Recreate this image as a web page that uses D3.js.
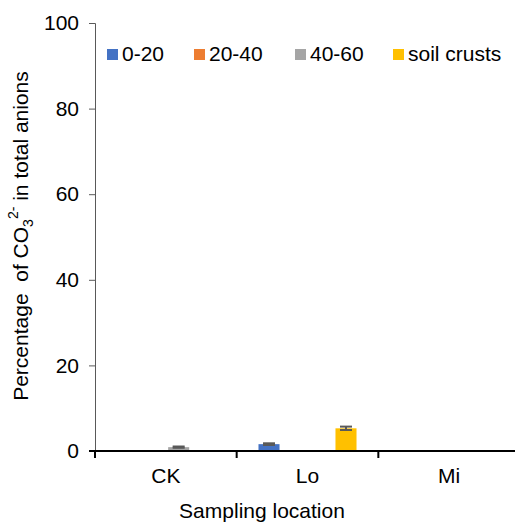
<!DOCTYPE html>
<html>
<head>
<meta charset="utf-8">
<script src="https://cdn.jsdelivr.net/npm/d3@7"></script>
<style>
	body { margin: 0; background: #fff; }
	text { font-family: "Liberation Sans", Arial, sans-serif; fill: #000; }
</style>
</head>
<body>
<div id="wrapper"></div>
<script>
const categories = ["CK", "Lo", "Mi"];
const series = ["0-20", "20-40", "40-60", "soil crusts"];
const colors = ["#4472C4", "#ED7D31", "#A5A5A5", "#FFC000"];
// values per category, in series order
const values = [
	[0, 0, 0.9, 0],
	[1.6, 0, 0, 5.3],
	[0, 0, 0, 0],
];
const errors = [
	[0, 0, 0.15, 0],
	[0.2, 0, 0, 0.4],
	[0, 0, 0, 0],
];
const yTicks = [0, 20, 40, 60, 80, 100];

const drawChart = () => {
	const dimensions = {
		width: 515,
		height: 522,
		margins: { top: 23, right: -5, bottom: 71, left: 95 },
	};
	dimensions.boundedWidth =
		dimensions.width - dimensions.margins.left - dimensions.margins.right;
	dimensions.boundedHeight =
		dimensions.height - dimensions.margins.top - dimensions.margins.bottom;

	const svg = d3
		.select("#wrapper")
		.append("svg")
		.attr("width", dimensions.width)
		.attr("height", dimensions.height);

	const bounds = svg
		.append("g")
		.attr("transform", `translate(${dimensions.margins.left}, ${dimensions.margins.top})`);

	// scales
	const x0 = d3
		.scaleBand()
		.domain(categories)
		.range([0, dimensions.boundedWidth])
		.paddingInner(0.308)
		.paddingOuter(0.154);

	const x1 = d3
		.scaleBand()
		.domain(series)
		.range([0, x0.bandwidth()])
		.paddingInner(0.18);

	const yScale = d3
		.scaleLinear()
		.domain([0, 100])
		.range([dimensions.boundedHeight, 0]);

	// bars
	const rows = categories.map((c, i) => ({
		category: c,
		items: series.map((s, j) => ({ s, j, value: values[i][j], err: errors[i][j] })),
	}));

	const groups = bounds
		.selectAll(".group")
		.data(rows)
		.join("g")
		.attr("class", "group")
		.attr("transform", (d) => `translate(${x0(d.category)}, 0)`);

	groups
		.selectAll("rect")
		.data((d) => d.items.filter((e) => e.value > 0))
		.join("rect")
		.attr("x", (d) => x1(d.s))
		.attr("width", x1.bandwidth())
		.attr("y", (d) => yScale(d.value))
		.attr("height", (d) => yScale(0) - yScale(d.value))
		.attr("fill", (d) => colors[d.j]);

	// error bars
	const errG = groups
		.selectAll(".err")
		.data((d) => d.items.filter((e) => e.value > 0))
		.join("g")
		.attr("class", "err")
		.attr("stroke", "#595959")
		.attr("stroke-width", 2);
	const capW = 6;
	errG
		.append("line")
		.attr("x1", (d) => x1(d.s) + x1.bandwidth() / 2)
		.attr("x2", (d) => x1(d.s) + x1.bandwidth() / 2)
		.attr("y1", (d) => yScale(d.value + d.err))
		.attr("y2", (d) => yScale(d.value - d.err));
	errG
		.selectAll(".cap")
		.data((d) => [d.value + d.err, d.value - d.err].map((v) => ({ v, d })))
		.join("line")
		.attr("class", "cap")
		.attr("x1", (e) => x1(e.d.s) + x1.bandwidth() / 2 - capW)
		.attr("x2", (e) => x1(e.d.s) + x1.bandwidth() / 2 + capW)
		.attr("y1", (e) => yScale(e.v))
		.attr("y2", (e) => yScale(e.v));

	// y axis
	const yAxis = bounds
		.append("g")
		.call(d3.axisLeft(yScale).tickValues(yTicks).tickSize(6).tickPadding(10));
	yAxis.select(".domain").attr("stroke", "#595959").attr("d", `M-6,0.5H0.5V${dimensions.boundedHeight}`);
	yAxis.selectAll(".tick line").attr("stroke", "#595959");
	yAxis.selectAll(".tick text").style("font-size", "21px");

	// x axis
	const step = x0.step();
	const xAxis = bounds
		.append("g")
		.attr("transform", `translate(0, ${dimensions.boundedHeight})`);
	xAxis
		.append("line")
		.attr("x1", -6)
		.attr("x2", dimensions.boundedWidth)
		.attr("stroke", "#000")
		.attr("stroke-width", 2);
	xAxis
		.selectAll(".xtick")
		.data(d3.range(categories.length + 1))
		.join("line")
		.attr("class", "xtick")
		.attr("x1", (i) => i * step)
		.attr("x2", (i) => i * step)
		.attr("y1", 0)
		.attr("y2", 7)
		.attr("stroke", "#000")
		.attr("stroke-width", 2);
	xAxis
		.selectAll(".xlabel")
		.data(categories)
		.join("text")
		.attr("class", "xlabel")
		.attr("x", (d) => x0(d) + x0.bandwidth() / 2)
		.attr("y", 32)
		.attr("text-anchor", "middle")
		.style("font-size", "21px")
		.text((d) => d);

	// axis titles
	svg
		.append("text")
		.attr("x", 262)
		.attr("y", 518)
		.attr("text-anchor", "middle")
		.style("font-size", "21px")
		.text("Sampling location");

	const yTitle = svg
		.append("text")
		.attr("transform", "translate(28, 236) rotate(-90)")
		.attr("text-anchor", "middle")
		.style("font-size", "21px");
	yTitle.append("tspan").text("Percentage\u00a0 of CO");
	yTitle.append("tspan").attr("dy", 5).style("font-size", "14px").text("3");
	yTitle.append("tspan").attr("dy", -15).style("font-size", "14px").text("2-");
	yTitle.append("tspan").attr("dy", 10).text(" in total anions");

	// legend
	const legendX = [107, 194, 295, 393];
	const legend = svg
		.append("g")
		.selectAll("g")
		.data(series)
		.join("g")
		.attr("transform", (d, i) => `translate(${legendX[i]}, 49)`);
	legend
		.append("rect")
		.attr("width", 11)
		.attr("height", 11)
		.attr("fill", (d, i) => colors[i]);
	legend
		.append("text")
		.attr("x", 15)
		.attr("y", 12)
		.style("font-size", "21px")
		.text((d) => d);
};

drawChart();
</script>
</body>
</html>
